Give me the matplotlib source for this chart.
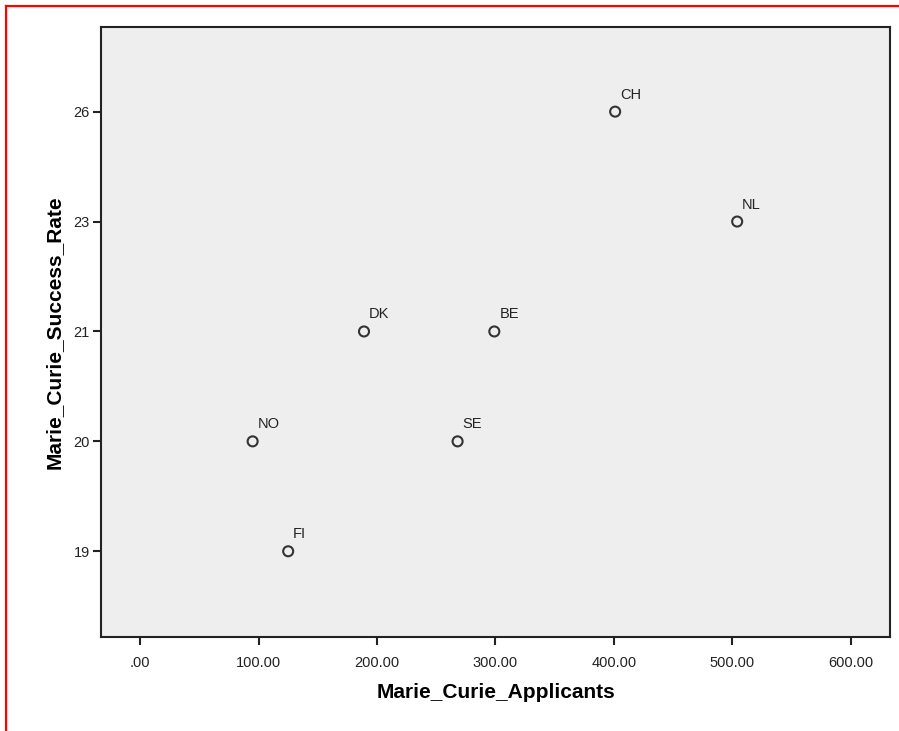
import matplotlib.pyplot as plt
from matplotlib.lines import Line2D

countries = ['NO', 'FI', 'DK', 'SE', 'BE', 'CH', 'NL']
applicants = [95, 125, 189, 268, 299, 401, 504]
success_rate = [20, 19, 21, 20, 21, 26, 23]

# SPSS treats the rate as categorical -> equally spaced levels
levels = sorted(set(success_rate))
y_pos = [levels.index(v) for v in success_rate]
x_ticks = [0, 100, 200, 300, 400, 500, 600]

plt.rcParams['font.family'] = ['Liberation Sans', 'DejaVu Sans']

W, H = 899, 731
fig = plt.figure(figsize=(W / 100, H / 100), dpi=100)
ax = fig.add_axes([101 / W, 1 - 637 / H, 789 / W, 610 / H])
ax.set_facecolor('#eeeeee')

ax.scatter(applicants, y_pos, s=52, facecolors='none', edgecolors='#333333', linewidths=1.5, zorder=3)
for name, x, y in zip(countries, applicants, y_pos):
    ax.annotate(name, (x, y), xytext=(5, 10), textcoords='offset pixels',
                fontsize=10.5, color='#222222', ha='left', va='bottom')

ax.set_xlim(-33, 633)
ax.set_ylim(-0.78, len(levels) - 1 + 0.77)
ax.set_xticks(x_ticks)
ax.set_xticklabels(['.00' if v == 0 else f'{v:.2f}' for v in x_ticks])
ax.set_yticks(range(len(levels)))
ax.set_yticklabels([str(v) for v in levels])
ax.tick_params(axis='both', direction='out', length=6, width=1.5, labelsize=10.5, colors='#222222', pad=2)
ax.tick_params(axis='x', pad=8)
for sp in ax.spines.values():
    sp.set_linewidth(1.5)
    sp.set_color('#222222')

ax.set_xlabel('Marie_Curie_Applicants', fontsize=15, fontweight='bold', labelpad=9)
ax.set_ylabel('Marie_Curie_Success_Rate', fontsize=15, fontweight='bold', labelpad=7)

# red screenshot frame
fig.add_artist(Line2D([6 / W, 6 / W], [0, 1 - 6 / H], color='red', lw=1.6, transform=fig.transFigure))
fig.add_artist(Line2D([6 / W, 1], [1 - 6 / H, 1 - 6 / H], color='red', lw=1.6, transform=fig.transFigure))

fig.savefig('out.png', dpi=100)
